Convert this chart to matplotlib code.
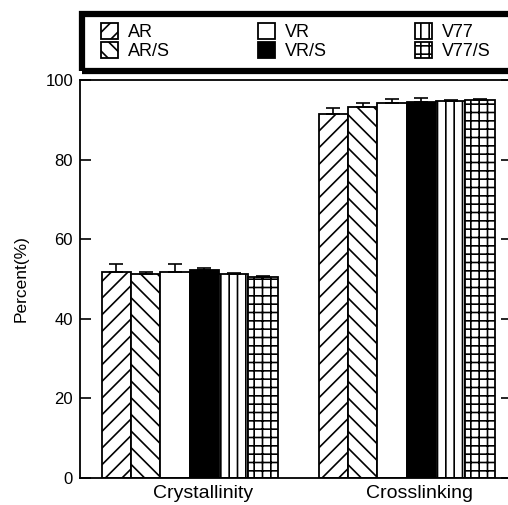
import numpy as np
import matplotlib
matplotlib.use("Agg")
from matplotlib import pyplot as plt
from matplotlib.patches import Rectangle

plt.rcParams['font.family'] = ['Liberation Sans', 'DejaVu Sans']
plt.rcParams['hatch.linewidth'] = 1.2

groups = ["Crystallinity", "Crosslinking"]
samples = ["AR", "AR/S", "VR", "VR/S", "V77", "V77/S"]

# percent values per sample: [crystallinity, crosslinking]
values = {
    "AR":    [51.8, 91.4],
    "AR/S":  [51.3, 93.2],
    "VR":    [51.7, 94.1],
    "VR/S":  [52.3, 94.5],
    "V77":   [51.2, 94.7],
    "V77/S": [50.4, 95.0],
}
errors = {
    "AR":    [1.9, 1.5],
    "AR/S":  [0.4, 1.1],
    "VR":    [2.0, 1.1],
    "VR/S":  [0.4, 1.1],
    "V77":   [0.3, 0.4],
    "V77/S": [0.3, 0.2],
}

styles = {
    "AR":    dict(facecolor="white", hatch="//"),
    "AR/S":  dict(facecolor="white", hatch="\\\\"),
    "VR":    dict(facecolor="white", hatch=""),
    "VR/S":  dict(facecolor="black", hatch=""),
    "V77":   dict(facecolor="white", hatch="||"),
    "V77/S": dict(facecolor="white", hatch="++"),
}

fig = plt.figure(figsize=(5.08, 5.05), dpi=100)
ax = fig.add_axes([80 / 508, 27 / 505, 432 / 508, 398 / 505])

x = np.arange(len(groups))
w = 0.135

for i, s in enumerate(samples):
    pos = x + (i - 2.5) * w
    ax.bar(pos, values[s], width=w, edgecolor="black", linewidth=1.3,
           label=s, **styles[s])
    ax.errorbar(pos, values[s], yerr=[np.zeros(len(groups)), errors[s]],
                fmt="none", ecolor="black", elinewidth=1.2, capsize=5,
                capthick=1.2)

ax.set_xlim(-0.505, 1.485)
ax.set_ylim(0, 100)
ax.set_yticks(np.arange(0, 101, 20))
ax.set_xticks(x + 0.06)
ax.set_xticklabels(groups, fontsize=14)
ax.tick_params(axis="x", length=0, pad=5)
ax.tick_params(axis="y", direction="in", length=8, width=1.2,
               labelsize=12, right=True, pad=5)
ax.set_ylabel("Percent(%)", fontsize=12.5, labelpad=12)
for sp in ax.spines.values():
    sp.set_linewidth(1.3)

# legend box runs past the right edge of the figure
fig.patches.append(Rectangle((82 / 508, 1 - 71 / 505), 440 / 508, 57 / 505,
                             transform=fig.transFigure, fill=False,
                             edgecolor="black", linewidth=4.5))
leg = fig.legend(loc="upper left", bbox_to_anchor=(94 / 508, 1 - 16 / 505),
                 ncol=3, fontsize=13, frameon=False,
                 handlelength=0.95, handleheight=0.95, handletextpad=0.55,
                 columnspacing=4.85, labelspacing=0.05, borderpad=0.4,
                 borderaxespad=0)

fig.savefig("out.png", dpi=100)
